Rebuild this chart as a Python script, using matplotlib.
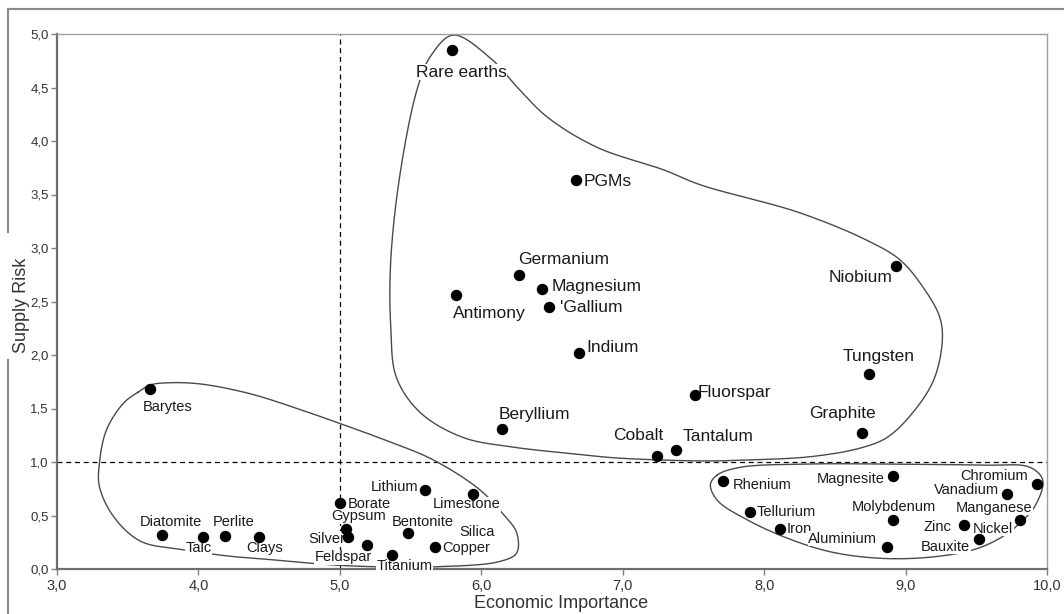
import numpy as np
import matplotlib
matplotlib.use("Agg")
import matplotlib.pyplot as plt
from matplotlib.lines import Line2D

plt.rcParams['font.family'] = ['Liberation Sans', 'DejaVu Sans']

# raw materials: economic importance (x) vs supply risk (y)
names = ['Rare earths', 'PGMs', 'Germanium', 'Magnesium', 'Gallium', 'Antimony', 'Indium',
         'Niobium', 'Tungsten', 'Fluorspar', 'Graphite', 'Cobalt', 'Tantalum', 'Beryllium',
         'Barytes', 'Diatomite', 'Talc', 'Perlite', 'Clays', 'Borate', 'Gypsum', 'Silver',
         'Feldspar', 'Titanium', 'Bentonite', 'Lithium', 'Limestone', 'Copper',
         'Rhenium', 'Magnesite', 'Chromium', 'Vanadium', 'Tellurium', 'Iron', 'Molybdenum',
         'Zinc', 'Manganese', 'Nickel', 'Aluminium']
econ = [5.79, 6.67, 6.27, 6.43, 6.48, 5.82, 6.69,
        8.93, 8.74, 7.51, 8.69, 7.24, 7.38, 6.15,
        3.66, 3.74, 4.03, 4.19, 4.43, 5.00, 5.04, 5.06,
        5.19, 5.37, 5.48, 5.60, 5.94, 5.67,
        7.71, 8.91, 9.93, 9.72, 7.90, 8.11, 8.91,
        9.41, 9.81, 9.52, 8.87]
risk = [4.85, 3.64, 2.75, 2.62, 2.45, 2.56, 2.02,
        2.83, 1.82, 1.63, 1.27, 1.06, 1.11, 1.31,
        1.68, 0.32, 0.30, 0.31, 0.30, 0.62, 0.37, 0.30,
        0.22, 0.13, 0.34, 0.74, 0.70, 0.21,
        0.82, 0.87, 0.79, 0.70, 0.53, 0.37, 0.46,
        0.41, 0.46, 0.28, 0.21]
critical = names[:14]

# extra labels that share a dot with another material
extra_labels = {'Silica': 'Copper', 'Bauxite': 'Nickel'}

# outlines of the three groups (hand traced)
crit_x = [5.80, 6.06, 6.27, 6.47, 6.82, 7.29, 7.55, 8.25, 8.73, 8.96, 9.12, 9.24, 9.26, 9.20,
          9.05, 8.87, 8.68, 8.33, 7.92, 7.60, 7.24, 6.93, 6.70, 6.22, 5.87, 5.57, 5.40, 5.36,
          5.36, 5.43, 5.55, 5.64]
crit_y = [4.99, 4.78, 4.48, 4.22, 3.94, 3.73, 3.59, 3.33, 3.07, 2.89, 2.64, 2.36, 2.14, 1.77,
          1.46, 1.23, 1.13, 1.05, 1.02, 1.01, 1.02, 1.04, 1.07, 1.14, 1.23, 1.46, 1.79, 2.26,
          2.89, 3.73, 4.50, 4.79]
low_x = [3.57, 3.66, 3.78, 4.01, 4.36, 4.72, 5.00, 5.31, 5.66, 5.99, 6.15, 6.25, 6.25, 6.13,
         5.66, 5.28, 4.93, 4.58, 4.22, 3.89, 3.59, 3.40, 3.30, 3.30, 3.35, 3.47]
low_y = [1.65, 1.72, 1.74, 1.73, 1.64, 1.49, 1.36, 1.21, 1.02, 0.74, 0.52, 0.34, 0.15, 0.07,
         0.02, 0.02, 0.04, 0.08, 0.12, 0.18, 0.26, 0.49, 0.77, 0.99, 1.30, 1.55]
eco_x = [7.67, 7.83, 8.25, 8.96, 9.53, 9.88, 9.97, 9.92, 9.81, 9.67, 9.48, 9.17, 8.82, 8.47,
         8.16, 7.88, 7.67, 7.62]
eco_y = [0.88, 0.95, 0.98, 0.98, 0.97, 0.95, 0.83, 0.60, 0.43, 0.29, 0.18, 0.11, 0.10, 0.16,
         0.29, 0.46, 0.64, 0.79]

x_ticks = np.arange(3, 10.01, 1.0)
y_ticks = np.arange(0, 5.01, 0.5)

# label placement: offset in pixels from the dot, horizontal alignment
lab = {
    'Rare earths': (10, -22, 'center'), 'PGMs': (8, -2, 'left'), 'Germanium': (-1, 15, 'left'),
    'Magnesium': (10, 2, 'left'), 'Gallium': (11, -1, 'left'), 'Antimony': (-3, -18, 'left'),
    'Indium': (8, 5, 'left'), 'Niobium': (-3, -11, 'right'), 'Tungsten': (10, 18, 'center'),
    'Fluorspar': (3, 2, 'left'), 'Graphite': (-19, 20, 'center'), 'Cobalt': (-18, 20, 'center'),
    'Tantalum': (6, 14, 'left'), 'Beryllium': (-4, 14, 'left'),
    'Barytes': (-8, -18, 'left'), 'Diatomite': (-22, 13, 'left'), 'Talc': (-17, -11, 'left'),
    'Perlite': (-13, 14, 'left'), 'Clays': (-13, -11, 'left'), 'Borate': (8, -1, 'left'),
    'Gypsum': (-14, 13, 'left'), 'Silver': (-3, -2, 'right'), 'Feldspar': (5, -12, 'right'),
    'Titanium': (-16, -11, 'left'), 'Bentonite': (-16, 11, 'left'), 'Lithium': (-6, 3, 'right'),
    'Limestone': (-40, -10, 'left'), 'Silica': (25, 15, 'left'), 'Copper': (8, -1, 'left'),
    'Rhenium': (10, -4, 'left'), 'Magnesite': (-8, -3, 'right'), 'Chromium': (-9, 8, 'right'),
    'Vanadium': (-8, 4, 'right'), 'Tellurium': (7, 0, 'left'), 'Iron': (7, 0, 'left'),
    'Molybdenum': (1, 13, 'center'), 'Zinc': (-12, -2, 'right'), 'Manganese': (12, 12, 'right'),
    'Nickel': (-6, 10, 'left'), 'Aluminium': (-10, 8, 'right'), 'Bauxite': (-9, -8, 'right'),
}
shown_text = {'Gallium': "'Gallium"}

XS, YS = 141.4, 107.0   # pixels per data unit, used to space the spline evenly


def closed_spline(xs, ys, n=24, alpha=0.5):
    # centripetal catmull-rom through the traced outline (closed)
    P = np.column_stack([np.asarray(xs) * XS, np.asarray(ys) * YS])
    m = len(P)
    segs = []
    for i in range(m):
        p0, p1, p2, p3 = P[i - 1], P[i], P[(i + 1) % m], P[(i + 2) % m]
        t0 = 0.0
        t1 = t0 + np.linalg.norm(p1 - p0) ** alpha
        t2 = t1 + np.linalg.norm(p2 - p1) ** alpha
        t3 = t2 + np.linalg.norm(p3 - p2) ** alpha
        t = np.linspace(t1, t2, n, endpoint=False)[:, None]
        a1 = (t1 - t) / (t1 - t0) * p0 + (t - t0) / (t1 - t0) * p1
        a2 = (t2 - t) / (t2 - t1) * p1 + (t - t1) / (t2 - t1) * p2
        a3 = (t3 - t) / (t3 - t2) * p2 + (t - t2) / (t3 - t2) * p3
        b1 = (t2 - t) / (t2 - t0) * a1 + (t - t0) / (t2 - t0) * a2
        b2 = (t3 - t) / (t3 - t1) * a2 + (t - t1) / (t3 - t1) * a3
        segs.append((t2 - t) / (t2 - t1) * b1 + (t - t1) / (t2 - t1) * b2)
    out = np.vstack(segs + [P[:1]])
    return out[:, 0] / XS, out[:, 1] / YS


W, H = 1064, 614
fig = plt.figure(figsize=(W / 100, H / 100), dpi=100)
ax = fig.add_axes([57 / W, 45 / H, 990 / W, 535 / H])

ax.set_xlim(3, 10)
ax.set_ylim(0, 5)
ax.axvline(5.0, color='black', lw=0.9, ls=(0, (4, 3)), zorder=1)
ax.axhline(1.0, color='black', lw=0.9, ls=(0, (4, 3)), zorder=1)

for cx, cy in [(crit_x, crit_y), (low_x, low_y), (eco_x, eco_y)]:
    sx, sy = closed_spline(cx, cy)
    ax.plot(sx, sy, color='#4a4a4a', lw=1.0, zorder=2, clip_on=False)

ax.scatter(econ, risk, s=52, color='black', zorder=5, clip_on=False)

pos = dict(zip(names, zip(econ, risk)))
all_labels = list(names) + list(extra_labels)
for nm in all_labels:
    anchor = extra_labels.get(nm, nm)
    dx, dy, ha = lab[nm]
    fs = 12.5 if anchor in critical else 10.5
    ax.annotate(shown_text.get(nm, nm), pos[anchor], xytext=(dx, dy), textcoords='offset pixels',
                ha=ha, va='center', fontsize=fs, color='#1a1a1a', zorder=4,
                bbox=dict(facecolor='white', edgecolor='none', pad=0.3))

ax.set_xticks(x_ticks)
ax.set_yticks(y_ticks)
ax.set_xticklabels([f'{v:.1f}'.replace('.', ',') for v in x_ticks])
ax.set_yticklabels([f'{v:.1f}'.replace('.', ',') for v in y_ticks])
ax.tick_params(direction='out', length=4, width=1, color='#808080', labelcolor='#333333')
ax.tick_params(axis='x', labelsize=10.5, pad=3)
ax.tick_params(axis='y', labelsize=9.5, pad=2)
for side in ['left', 'bottom']:
    ax.spines[side].set_color('#6e6e6e')
    ax.spines[side].set_linewidth(1.6)
for side in ['top', 'right']:
    ax.spines[side].set_color('#a0a0a0')
    ax.spines[side].set_linewidth(1.0)

fig.text(561 / W, 1 - 603 / H, 'Economic Importance', ha='center', va='center',
         fontsize=13, color='#333333')
fig.text(21.5 / W, 1 - 305 / H, 'Supply Risk', ha='center', va='center', rotation=90,
         fontsize=13, color='#333333')

# outer frame (left edge is broken around the y label)
frame = dict(color='#8a8a8a', lw=1.5, transform=fig.transFigure)
fig.add_artist(Line2D([8 / W, 1], [1 - 9 / H, 1 - 9 / H], **frame))
fig.add_artist(Line2D([8 / W, 8 / W], [1 - 9 / H, 1 - 232 / H], **frame))
fig.add_artist(Line2D([8 / W, 8 / W], [1 - 360 / H, 0], **frame))

fig.savefig('out.png', dpi=100)
